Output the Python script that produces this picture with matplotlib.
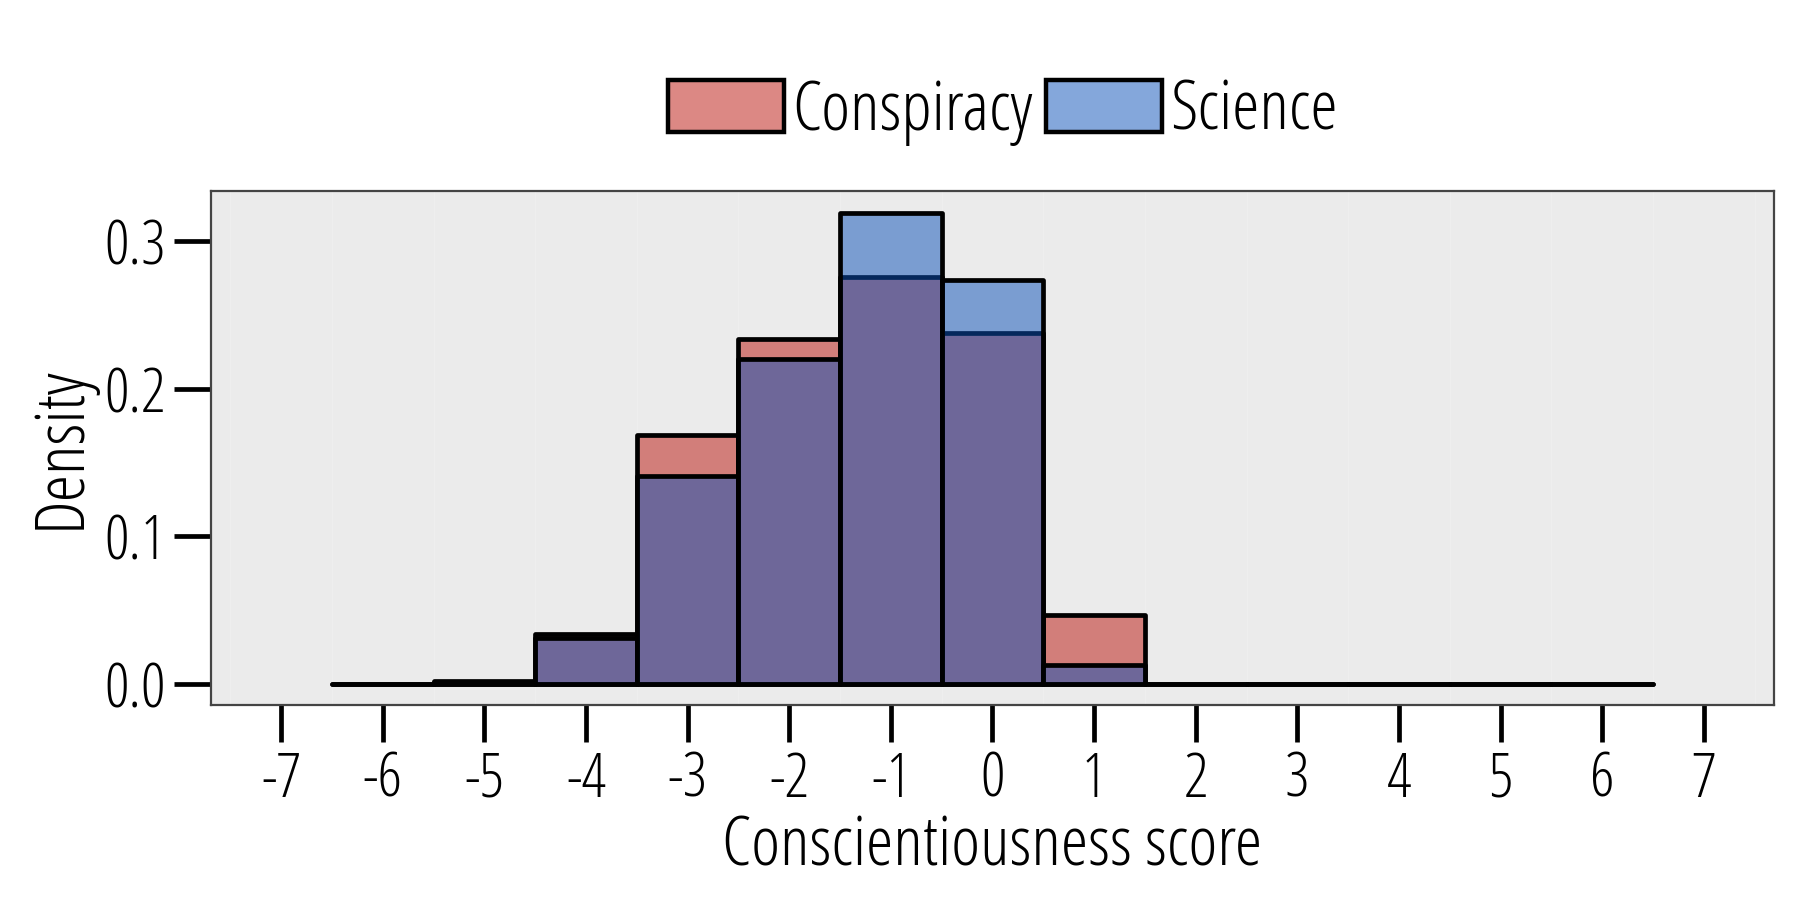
import matplotlib
matplotlib.use("Agg")
import matplotlib.pyplot as plt
from matplotlib import font_manager as fm
from matplotlib.patches import Patch
import numpy as np

# ---- data ----
bin_centers = [-6, -5, -4, -3, -2, -1, 0, 1, 2, 3, 4, 5, 6]
conspiracy = [0.0, 0.002, 0.034, 0.169, 0.234, 0.276, 0.238, 0.047, 0.0, 0.0, 0.0, 0.0, 0.0]
science = [0.0, 0.0015, 0.031, 0.141, 0.220, 0.319, 0.274, 0.013, 0.0, 0.0, 0.0, 0.0, 0.0]
x_ticks = list(range(-7, 8))
y_ticks = [0.0, 0.1, 0.2, 0.3]
series_names = ["Conspiracy", "Science"]

# ---- font pick ----
cands = []
for f in fm.fontManager.ttflist:
    n = f.name
    st = str(f.stretch)
    cond = ("Condensed" in n or "Narrow" in n or st in ("condensed", "semi-condensed", "extra-condensed")
            or (isinstance(f.stretch, int) and f.stretch < 500) or "ondensed" in f.fname)
    if cond:
        cands.append(f)
def score(f):
    s = 0
    if "Open Sans" in f.name: s += 30
    elif "Roboto" in f.name: s += 20
    elif "Liberation" in f.name: s += 10
    w = f.weight if isinstance(f.weight, int) else {"light": 300, "normal": 400, "regular": 400}.get(str(f.weight), 400)
    if w <= 350: s += 5
    if f.style != "normal": s -= 100
    return s
if cands:
    best = max(cands, key=score)
    fpath = best.fname
    FP = lambda size: fm.FontProperties(fname=fpath, size=size)
else:
    FP = lambda size: fm.FontProperties(family="DejaVu Sans", stretch="condensed", size=size)

c_color = (187/255, 19/255, 11/255, 0.5)
s_color = (11/255, 81/255, 185/255, 0.5)

fig = plt.figure(figsize=(18, 9), dpi=100)
ax = fig.add_axes([211/1800, 1-705/900, (1774-211)/1800, (705-191)/900])
ax.set_facecolor("#EBEBEB")

ax.bar(bin_centers, conspiracy, width=1.0, color=c_color, edgecolor="black", linewidth=3.4,
       joinstyle="round", capstyle="round", zorder=2)
ax.bar(bin_centers, science, width=1.0, color=s_color, edgecolor="black", linewidth=3.4,
       joinstyle="round", capstyle="round", zorder=3)

ax.set_xticks(x_ticks)
ax.set_xticklabels([str(v) for v in x_ticks])
ax.set_yticks(y_ticks)
ax.set_yticklabels([f"{v:.1f}" for v in y_ticks])
ax.set_xticks(np.arange(-7.5, 8.0, 0.5), minor=True)
ax.set_xlim(-7.69, 7.69)
ax.set_ylim(-0.0142, 0.334)
ax.grid(True, which="minor", axis="x", color="#EEEEEE", linewidth=0.8, zorder=0)
ax.set_axisbelow(True)
ax.tick_params(which="minor", length=0)
ax.tick_params(which="major", direction="out", length=26.5, width=3.4, color="black", pad=6)
for lab in ax.get_xticklabels() + ax.get_yticklabels():
    lab.set_fontproperties(FP(44))
for sp in ax.spines.values():
    sp.set_color("#444444")
    sp.set_linewidth(1.6)

ax.set_xlabel("Conscientiousness score", fontproperties=FP(50), labelpad=1)
ax.set_ylabel("Density", fontproperties=FP(50), labelpad=6)

handles = [Patch(facecolor=c_color, edgecolor="black", linewidth=3.2),
           Patch(facecolor=s_color, edgecolor="black", linewidth=3.2)]
leg = fig.legend(handles, series_names, loc="center", bbox_to_anchor=(1003/1800, 1-112/900),
                 ncol=2, frameon=False, prop=FP(50), handlelength=1.66, handleheight=0.78,
                 handletextpad=0.12, columnspacing=0.2, borderaxespad=0)

fig.savefig("out.png", dpi=100)
